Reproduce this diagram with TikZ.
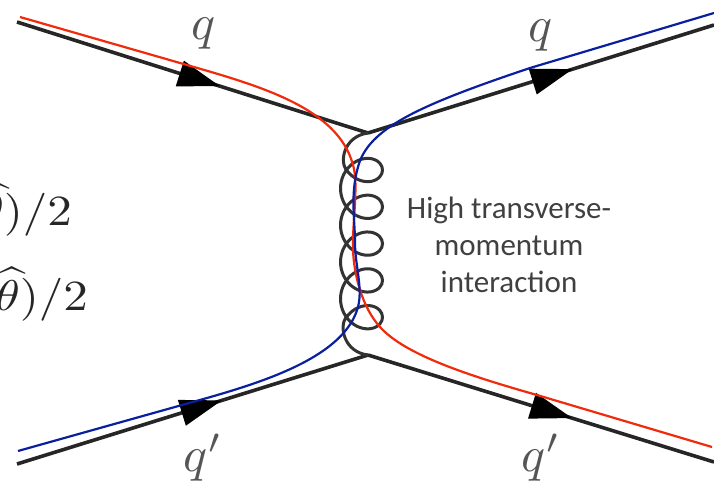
\documentclass[tikz,border=0pt]{standalone}
\usepackage{amsmath, amssymb}
\usepackage{fontspec}
\usepackage{xcolor}
\usetikzlibrary{arrows.meta,decorations.markings}
\newfontfamily\labelfont{Carlito}
\definecolor{redtrack}{HTML}{F02A0A}
\definecolor{bluetrack}{HTML}{0A1EA0}
\definecolor{labelgrey}{HTML}{555555}
\tikzset{
  quark/.style={line width=3.6pt,black!85,postaction={decorate},decoration={markings,mark=at position #1 with {\arrow[black]{Triangle[length=42pt,width=26pt]}}}},
  gluon/.style={line width=3pt,black!80},
  track/.style={line width=2.2pt},
  qlabel/.style={labelgrey,inner sep=0pt,scale=5},
  formula/.style={black!85,inner sep=0pt,anchor=base east,xscale=4.9,yscale=4.3}
}
\begin{document}
\begin{tikzpicture}[x=1pt,y=-1pt]
      \useasboundingbox (0,0) rectangle (714,484);
      \coordinate (A) at (17,22);
      \coordinate (B) at (714,25);
      \coordinate (C) at (17,464);
      \coordinate (D) at (714,462);
      \coordinate (V1) at (368,133);
      \coordinate (V2) at (368,355);
      \coordinate (G1) at (346,170);
      \coordinate (G2) at (346,317.2);
      \draw [quark=.578] (A) to (V1);
      \draw [quark=.592] (V1) to (B);
      \draw [quark=.584] (C) to (V2);
      \draw [quark=.59] (V2) to (D);
      % gluon coil
      \draw [gluon] (V1) .. controls (346,136) and (339,158) .. (G1)
        -- plot [smooth,domain=-136:1576,samples=115] ({361.5+21*cos(\x)},{170+\x/360*36.8-20*sin(\x)})
        -- (G2) .. controls (339,327) and (344,352) .. (V2);
      \draw [track,redtrack] (20,17) -- (187,65) .. controls (260,86) and (338,108) .. (353,165) .. controls (359,184) and (352,225) .. (353,250) .. controls (354,275) and (362,307) .. (380,327) .. controls (405,355) and (470,376) .. (537,395) -- (712,447);
      \draw [track,bluetrack] (18,451) -- (207,398) .. controls (270,380) and (345,355) .. (358,307) .. controls (363,288) and (355,265) .. (355,243) .. controls (355,220) and (350,195) .. (358,167) .. controls (368,128) and (420,105) .. (530,68) -- (714,13);
      \node [qlabel] (q1) at (204,34) {$q$};
      \node [qlabel] (q2) at (541,36) {$q$};
      \node [qlabel] (q3) at (203,458) {$q'$};
      \node [qlabel] (q4) at (541,458) {$q'$};
      \node [formula] (F1) at (73,225) {$\widehat{\theta})/2$};
      \node [formula] (F2) at (89,310) {$\widehat{\theta})/2$};
      \node [black!75,align=center,font=\labelfont\fontsize{31}{37}\selectfont] (T) at (509,245) {High transverse-\\momentum\\interaction};
    \end{tikzpicture}
\end{document}
